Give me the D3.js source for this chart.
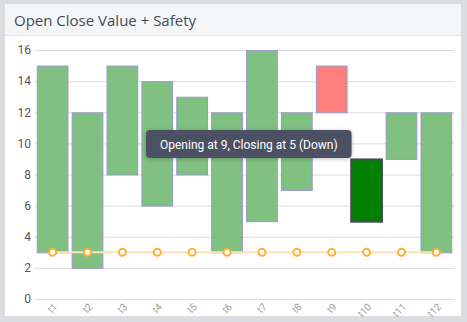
<!DOCTYPE html>
<html><head><meta charset="utf-8">
<script src="https://cdn.jsdelivr.net/npm/d3@7"></script>
<style>
html,body{margin:0;padding:0;background:#dcdde0;}
#card{position:absolute;left:5px;top:4px;width:456px;height:312px;background:#fff;}
#hdr{height:31px;background:#f5f6f8;border-bottom:1px solid #e6e7ea;}
#hdr span{position:absolute;left:9px;top:6px;font-family:"Open Sans",sans-serif;font-size:15px;color:#454a57;}
svg{position:absolute;left:0;top:0;}
</style></head>
<body>
<div id="card"><div id="hdr"><span>Open Close Value + Safety</span></div></div>
<svg id="chart" width="467" height="322"></svg>
<script>
const categories = ["t1","t2","t3","t4","t5","t6","t7","t8","t9","t10","t11","t12"];
const openValues  = [3, 2, 8, 6, 8, 3, 5, 7, 12, 9, 9, 3];
const closeValues = [15,12,15,14,13,12,16,12,15, 5,12,12];
const safetyValues = [3,3,3,3,3,3,3,3,3,3,3,3];
const alertCategories = ["t9"];
const hoveredCategory = "t10";
const yTicks = [0,2,4,6,8,10,12,14,16];

const svg = d3.select("#chart");
const mL = 35, mR = 454, mT = 50, mB = 299;
const x = d3.scaleBand().domain(categories).range([mL, mR]).paddingInner(0.09).paddingOuter(0.05);
const y = d3.scaleLinear().domain([0,16]).range([mB, mT]);

// grid
svg.append("g").selectAll("line").data(yTicks).join("line")
  .attr("x1", mL).attr("x2", mR)
  .attr("y1", d=>y(d)+0.5).attr("y2", d=>y(d)+0.5)
  .attr("stroke", "#dcdcdc").attr("stroke-width",1);

// y axis labels
const ya = svg.append("g").attr("transform",`translate(${mL},0)`)
  .call(d3.axisLeft(y).tickValues(yTicks).tickSize(0).tickPadding(4));
ya.select(".domain").remove();
ya.selectAll("text").attr("font-family","Roboto, sans-serif").attr("font-size",12).attr("fill","#555");

// x axis
const xa = svg.append("g").attr("transform",`translate(0,${mB})`)
  .call(d3.axisBottom(x).tickSize(0).tickPadding(0));
xa.select(".domain").attr("stroke","#dcdcdc").attr("d",`M${mL},0.5H${mR}`);
xa.selectAll("text").attr("font-family","Roboto, sans-serif").attr("font-size",10).attr("fill","#999")
  .attr("text-anchor","end").attr("x",0).attr("y",0).attr("dx",0).attr("dy","0.35em")
  .attr("transform","translate(3,6) rotate(-45)");

// bars
const data = categories.map((c,i)=>({c, o:openValues[i], cl:closeValues[i]}));
svg.append("g").selectAll("rect").data(data).join("rect")
  .attr("x", d=>x(d.c)+0.5)
  .attr("width", x.bandwidth()-1)
  .attr("y", d=>y(Math.max(d.o,d.cl))+0.5)
  .attr("height", d=>y(Math.min(d.o,d.cl))-y(Math.max(d.o,d.cl)))
  .attr("fill", d=> d.c===hoveredCategory ? "#008000" : alertCategories.includes(d.c) ? "#ff7f7f" : "#80c080")
  .attr("stroke", d=> d.c===hoveredCategory ? "#454a57" : "#9a9acc")
  .attr("stroke-width", d=> d.c===hoveredCategory ? 2 : 1);

// safety line
const cx = c => x(c)+x.bandwidth()/2;
svg.append("path").datum(categories)
  .attr("d", d3.line().x(c=>cx(c)).y((c,i)=>y(safetyValues[i])))
  .attr("fill","none").attr("stroke","#ffe3b3").attr("stroke-width",2);
svg.append("g").selectAll("circle").data(categories).join("circle")
  .attr("cx", c=>cx(c)).attr("cy",(c,i)=>y(safetyValues[i]))
  .attr("r",3.5).attr("fill","#fff").attr("stroke","#ffb02e").attr("stroke-width",2);

// tooltip
const hi = categories.indexOf(hoveredCategory);
const tipText = `Opening at ${openValues[hi]}, Closing at ${closeValues[hi]} (${closeValues[hi]<openValues[hi]?"Down":"Up"})`;
const tg = svg.append("g");
const tr = tg.append("rect").attr("x",146).attr("y",130).attr("height",28).attr("rx",4)
  .attr("fill","#4b5162").attr("filter","drop-shadow(0 1px 2px rgba(0,0,0,0.25))");
const tt = tg.append("text").attr("x",160).attr("y",148.5).text(tipText)
  .attr("font-family","Roboto, sans-serif").attr("font-size",12).attr("fill","#fff");
const w = tt.node().getComputedTextLength();
tr.attr("width", w+28);
</script>
</body></html>
